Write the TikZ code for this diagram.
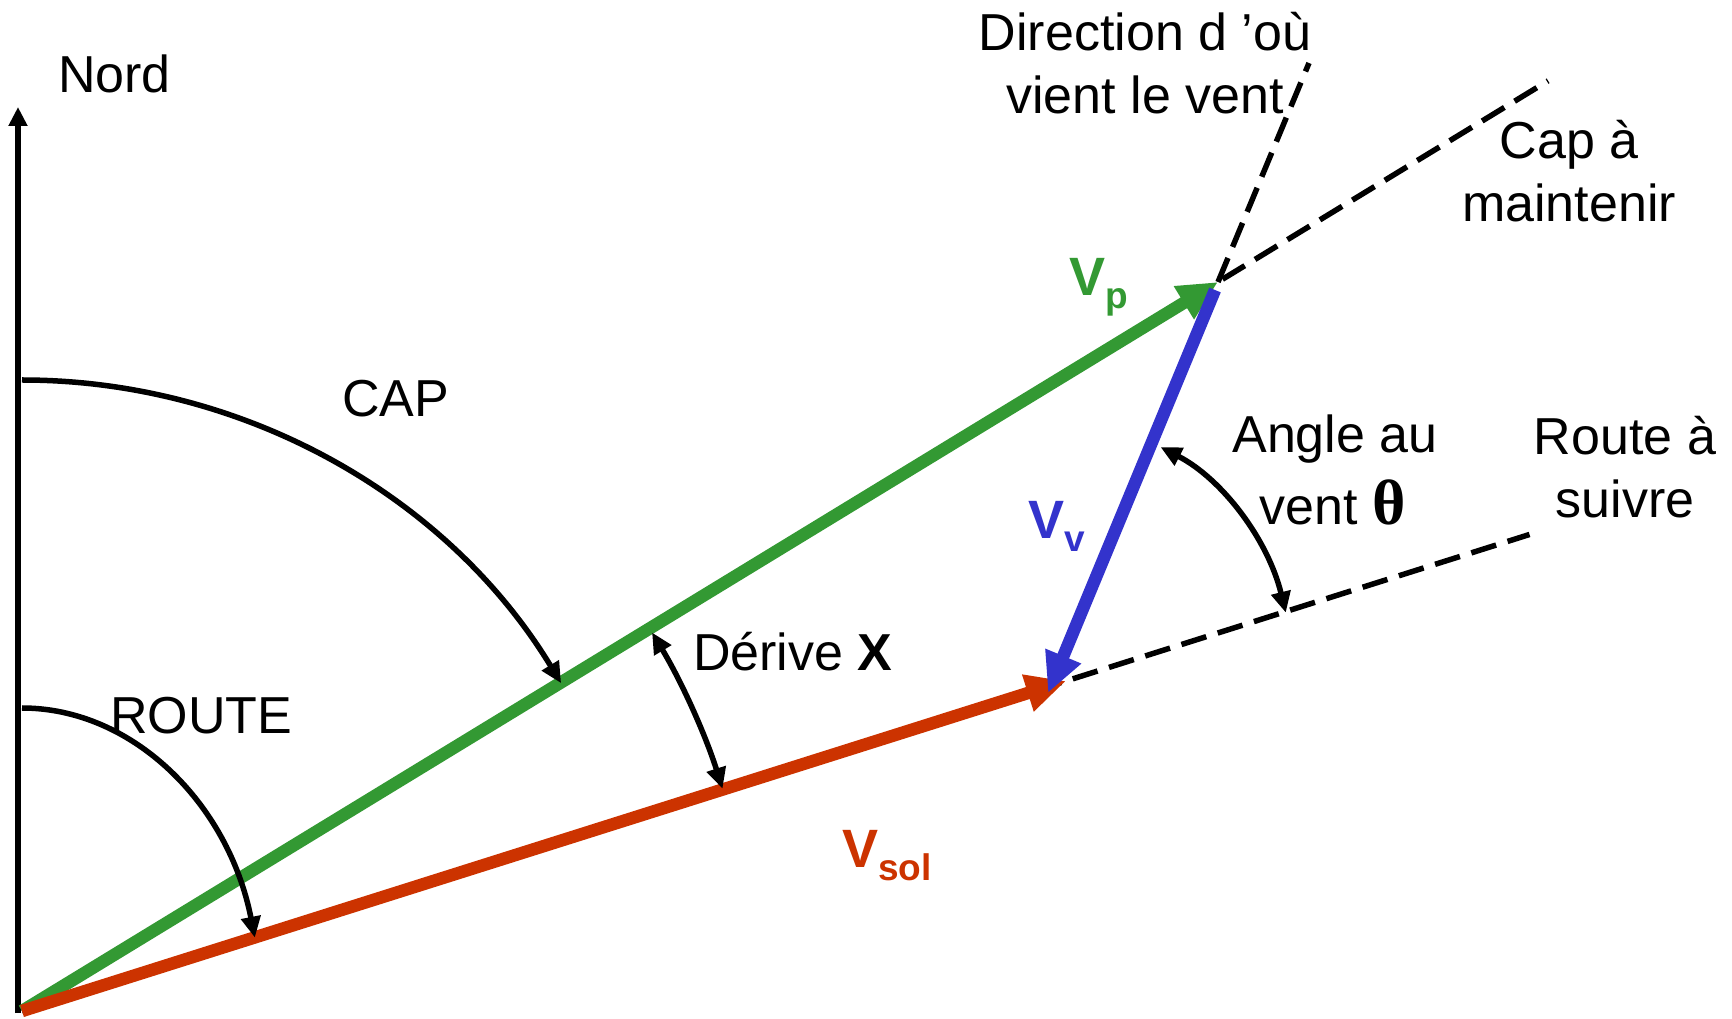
\documentclass[tikz,border=0pt]{standalone}
\usepackage{fontspec}
\setmainfont{Liberation Sans}
\newfontfamily\serifth{Liberation Serif}
\usetikzlibrary{arrows.meta,calc}
\definecolor{vgreen}{HTML}{339933}
\definecolor{vred}{HTML}{CC3300}
\definecolor{vblue}{HTML}{3333CC}
\begin{document}
\begin{tikzpicture}[x=1pt,y=1pt,
  lbl/.style={font=\fontsize{52}{62}\selectfont, inner sep=0pt},
  vlbl/.style={font=\fontsize{54}{62}\selectfont\bfseries, inner sep=0pt},
  axisline/.style={line width=6pt, -{Triangle[length=19pt,width=18pt]}},
  vec/.style={line width=12.5pt, -{Triangle[length=40pt,width=36pt]}},
  dashln/.style={line width=5.5pt, dash pattern=on 26pt off 12pt},
  anglearc/.style={line width=5.5pt, -{Triangle[length=21pt,width=19pt]}},
  anglearcb/.style={line width=5.5pt, {Triangle[length=21pt,width=19pt]}-{Triangle[length=21pt,width=19pt]}},
]
\useasboundingbox (0,0) rectangle (1732,1018);
\coordinate (O) at (22,7);
\coordinate (Nbase) at (18,5);
\coordinate (Ntip) at (18,911);
\coordinate (VP) at (1218,736);
\coordinate (VS) at (1066,337);
\coordinate (VVs) at (1215,728);
\coordinate (VVe) at (1048,325);
\coordinate (Wend) at (1309,955);
\coordinate (Cend) at ($(O)!1.276!(VP)$);
\coordinate (Rend) at ($(O)!1.444!(VS)$);

% north axis
\draw[axisline] (Nbase) -- (Ntip);

% dashed reference lines
\draw[dashln] (O) -- (Cend);
\draw[dashln] (O) -- (Rend);
\draw[dashln] (VP) -- (Wend);

% vectors
\draw[vec, vgreen] (O) -- (VP);
\draw[vec, vred] (O) -- (VS);
\draw[vec, vblue] (VVs) -- (VVe);

% angle arcs
\draw[anglearc] ($(O)+(90:631)$) arc[start angle=90, end angle=31.3, radius=631];
\draw[anglearc] ($(O)+(0,303)$) arc[start angle=90, end angle=14, x radius=240, y radius=303];
\draw[anglearcb] ($(O)+(31:735)$) arc[start angle=31, end angle=17.6, radius=735];
\draw[anglearcb] ($(VS)+({228*cos(65.5)},{257*sin(65.5)})$) arc[start angle=65.5, end angle=15.4, x radius=228, y radius=257];

% labels
\node[lbl, anchor=base west] (nord) at (58,925) {Nord};
\node[lbl, anchor=base west] (cap) at (342,601) {CAP};
\node[lbl, anchor=base west] (route) at (110,284) {ROUTE};
\node[lbl, anchor=base west] (derive) at (693,347) {Dérive \textbf{X}};
\node[lbl, anchor=base] (wind1) at (1145,967) {Direction d ’où};
\node[lbl, anchor=base] (wind2) at (1145,904) {vient le vent};
\node[lbl, anchor=base] (cap1) at (1569,859) {Cap à};
\node[lbl, anchor=base] (cap2) at (1569,796) {maintenir};
\node[lbl, anchor=base] (av1) at (1335,565) {Angle au};
\node[lbl, anchor=base] (av2) at (1333,493) {vent {\serifth\bfseries\fontsize{64}{66}\selectfont θ}};
\node[lbl, anchor=base] (rs1) at (1625,563) {Route à};
\node[lbl, anchor=base] (rs2) at (1625,500) {suivre};

\node[vlbl, text=vgreen, anchor=base west] (vp) at (1069,722) {V\raisebox{-13pt}{\fontsize{37}{40}\selectfont p}};
\node[vlbl, text=vblue, anchor=base west] (vv) at (1028,479) {V\raisebox{-13pt}{\fontsize{37}{40}\selectfont v}};
\node[vlbl, text=vred, anchor=base west] (vsol) at (842,151) {V\raisebox{-13pt}{\fontsize{37}{40}\selectfont sol}};
\end{tikzpicture}
\end{document}
